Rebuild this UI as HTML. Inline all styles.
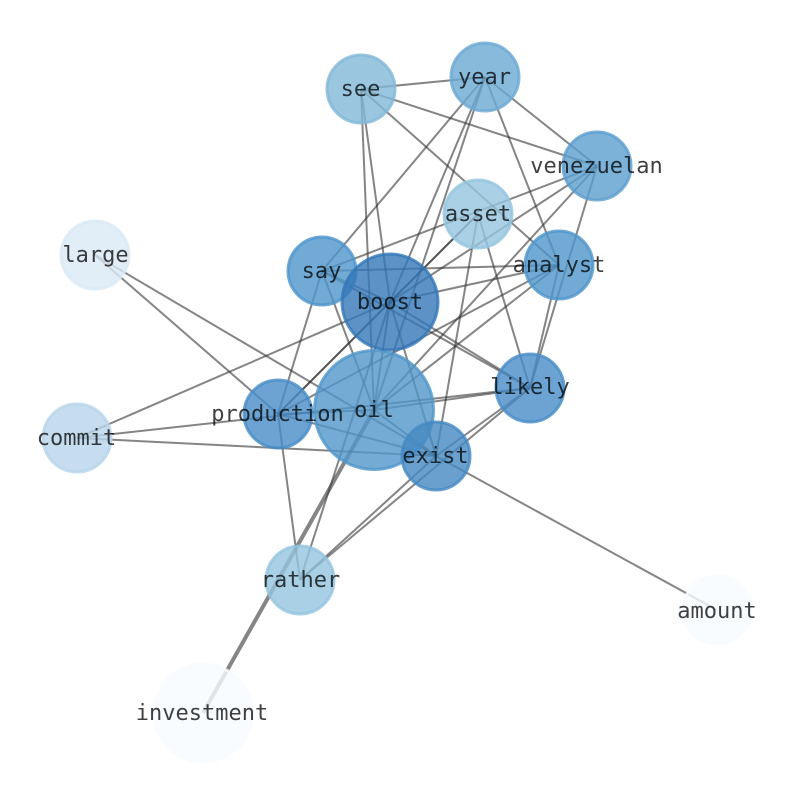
<!DOCTYPE html>
<html><head><meta charset="utf-8"><style>
html,body{margin:0;padding:0;background:#fff}
svg{display:block}
text{font-family:"DejaVu Sans Mono","Liberation Mono",monospace;font-size:22px;fill:#000;fill-opacity:.75;text-anchor:middle}
circle{stroke-width:3;fill-opacity:.8;stroke-opacity:.8}
</style></head><body>
<svg width="794" height="790" viewBox="0 0 794 790" xmlns="http://www.w3.org/2000/svg">
<g stroke="#333" stroke-opacity=".6" stroke-width="2" fill="none">
<path d="M361 89L485 77"/><path d="M361 89L597 166"/><path d="M361 89L559 265"/><path d="M361 89L390 302"/><path d="M361 89L374 410"/>
<path d="M485 77L322 271"/><path d="M485 77L390 302"/><path d="M485 77L374 410"/><path d="M485 77L559 265"/><path d="M485 77L597 166"/>
<path d="M597 166L322 271"/><path d="M597 166L390 302"/><path d="M597 166L374 410"/><path d="M597 166L530 388"/>
<path d="M478 214L390 302"/><path d="M478 214L278 414"/><path d="M478 214L436 456"/><path d="M478 214L530 388"/>
<path d="M559 265L322 271"/><path d="M559 265L390 302"/><path d="M559 265L374 410"/><path d="M559 265L278 414"/><path d="M559 265L530 388"/>
<path d="M322 271L390 302"/><path d="M322 271L530 388"/><path d="M322 271L278 414"/><path d="M322 271L374 410"/>
<path d="M390 302L530 388"/><path d="M390 302L374 410"/><path d="M390 302L436 456"/><path d="M390 302L300 580"/><path d="M390 302L278 414"/><path d="M390 302L77 438"/>
<path d="M374 410L530 388"/><path d="M374 410L436 456"/><path d="M374 410L278 414"/>
<path d="M278 414L436 456"/><path d="M278 414L300 580"/><path d="M77 438L530 388"/><path d="M77 438L436 456"/>
<path d="M95 255L278 414"/><path d="M95 255L436 456"/><path d="M436 456L717 610"/>
<path d="M300 580L530 388"/><path d="M300 580L436 456"/><path d="M436 456L530 388"/>
<path d="M203 713L374 410" stroke-width="4"/>
</g>
<circle cx="361" cy="89" r="34" fill="#81b8d8" stroke="#81b8d8"/>
<circle cx="485" cy="77" r="34" fill="#6aa9d3" stroke="#6aa9d3"/>
<circle cx="597" cy="166" r="34" fill="#5b9ece" stroke="#5b9ece"/>
<circle cx="478" cy="214" r="34" fill="#94c4df" stroke="#94c4df"/>
<circle cx="559" cy="265" r="34" fill="#4e95ca" stroke="#4e95ca"/>
<circle cx="322" cy="271" r="34" fill="#4e95ca" stroke="#4e95ca"/>
<circle cx="95" cy="255" r="34" fill="#d9e8f5" stroke="#d9e8f5"/>
<circle cx="374" cy="410" r="59.5" fill="#5096c9" stroke="#5096c9"/>
<circle cx="390" cy="302" r="48" fill="#3377b8" stroke="#3377b8"/>
<circle cx="530" cy="388" r="34" fill="#478cc7" stroke="#478cc7"/>
<circle cx="278" cy="414" r="34" fill="#478cc7" stroke="#478cc7"/>
<circle cx="436" cy="456" r="34" fill="#4588c2" stroke="#4588c2"/>
<circle cx="77" cy="438" r="34" fill="#b7d4ea" stroke="#b7d4ea"/>
<circle cx="300" cy="580" r="34" fill="#94c4df" stroke="#94c4df"/>
<circle cx="717" cy="610" r="34" fill="#f7fbff" stroke="#f7fbff"/>
<circle cx="203" cy="713" r="49" fill="#f7fbff" stroke="#f7fbff"/>
<text x="360.5" y="96">see</text>
<text x="484.5" y="84">year</text>
<text x="596.5" y="173">venezuelan</text>
<text x="478" y="221">asset</text>
<text x="559" y="272">analyst</text>
<text x="321.5" y="278">say</text>
<text x="95.5" y="262">large</text>
<text x="390" y="309">boost</text>
<text x="374" y="417">oil</text>
<text x="530" y="394">likely</text>
<text x="277.5" y="421">production</text>
<text x="435.5" y="463">exist</text>
<text x="76.5" y="445">commit</text>
<text x="300.5" y="587">rather</text>
<text x="717" y="618">amount</text>
<text x="202" y="720">investment</text>
</svg>
</body></html>
